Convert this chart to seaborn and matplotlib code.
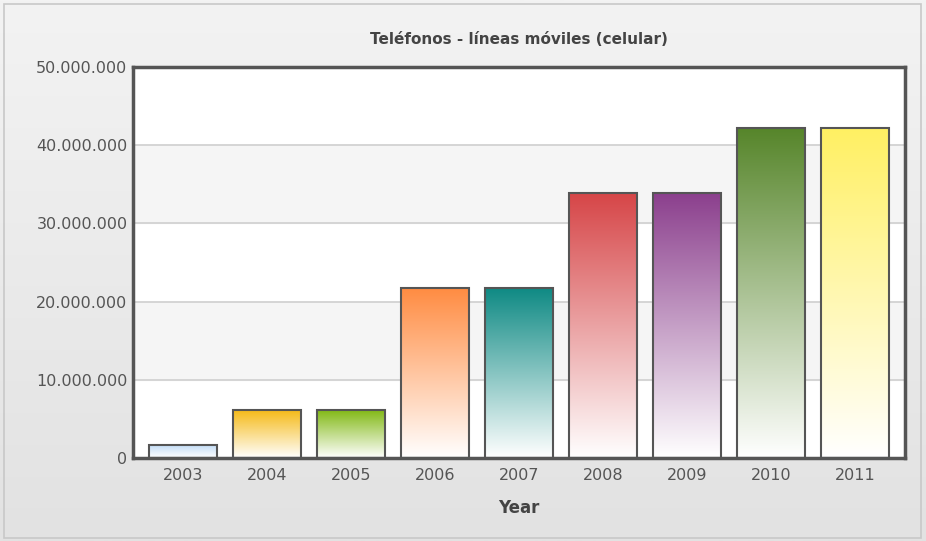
import numpy as np
import matplotlib.pyplot as plt
import matplotlib.colors as mcolors
from matplotlib.patches import Rectangle
from matplotlib.ticker import FuncFormatter
import seaborn as sns

# data
years = ['2003', '2004', '2005', '2006', '2007', '2008', '2009', '2010', '2011']
lines = [1650000, 6150000, 6150000, 21700000, 21700000, 33950000, 33950000, 42250000, 42250000]
bar_colors = ['#c4ddf6', '#f5b914', '#80b812', '#ff8c42', '#0f8a84',
              '#d64547', '#8b3f8d', '#56852a', '#fff062']
yticks = [0, 10000000, 20000000, 30000000, 40000000, 50000000]

sns.set_style('white')
plt.rcParams['font.family'] = ['DejaVu Sans']

fig = plt.figure(figsize=(9.26, 5.41), dpi=100)

# grey gradient background + thin border
bg = fig.add_axes([0, 0, 1, 1], zorder=-10)
grad = np.linspace(0, 1, 256).reshape(-1, 1)
bg_cmap = mcolors.LinearSegmentedColormap.from_list('bg', ['#f3f3f3', '#e2e2e2'])
bg.imshow(grad, aspect='auto', cmap=bg_cmap, extent=[0, 1, 0, 1], origin='upper')
bg.add_patch(Rectangle((4 / 926, 3 / 541), 917 / 926, 534 / 541, fill=False,
                       edgecolor='#c8c8c8', lw=1.2, transform=bg.transAxes))
bg.set_xlim(0, 1)
bg.set_ylim(0, 1)
bg.axis('off')

ax = fig.add_axes([133 / 926, 1 - 458 / 541, 772 / 926, 391 / 541])
ax.set_facecolor('white')
ax.axhspan(10000000, 20000000, color='#f5f5f5', zorder=0)
ax.axhspan(30000000, 40000000, color='#f5f5f5', zorder=0)
ax.set_axisbelow(True)
ax.yaxis.grid(True, color='#d2d2d2', lw=1.3)

n_before = len(ax.patches)
sns.barplot(x=years, y=lines, hue=years, palette=bar_colors, legend=False,
            width=0.81, saturation=1, edgecolor='#555555', linewidth=1.5, ax=ax)
bars = ax.patches[n_before:]

# vertical gradient fill: colour at top, fading to white at bottom
for patch, col in zip(bars, bar_colors):
    x0, w = patch.get_x(), patch.get_width()
    h = patch.get_height()
    cmap = mcolors.LinearSegmentedColormap.from_list('g', ['#ffffff', col])
    im = ax.imshow(grad, aspect='auto', cmap=cmap, origin='lower',
                   extent=[x0, x0 + w, 0, h], zorder=0.95)
    im.set_clip_path(patch)
    patch.set_facecolor('none')
    patch.set_zorder(1)

ax.set_xlim(-0.595, 8.595)
ax.set_ylim(0, 50000000)
ax.set_yticks(yticks)
ax.yaxis.set_major_formatter(FuncFormatter(lambda v, p: '{:,.0f}'.format(v).replace(',', '.')))
ax.tick_params(axis='y', length=0, pad=4, labelsize=11.5, labelcolor='#555555')
ax.tick_params(axis='x', length=0, pad=7, labelsize=11.5, labelcolor='#555555')
ax.set_xlabel('')
ax.set_ylabel('')

for s in ax.spines.values():
    s.set_visible(True)
    s.set_color('#555555')
    s.set_linewidth(2.5)

fig.text(519 / 926, 1 - 40 / 541, 'Teléfonos - líneas móviles (celular)',
         ha='center', va='center', fontsize=11, fontweight='bold', color='#444444')
fig.text(519 / 926, 1 - 508 / 541, 'Year', ha='center', va='center',
         fontsize=12, fontweight='bold', color='#444444')

fig.savefig('out.png', dpi=100)
